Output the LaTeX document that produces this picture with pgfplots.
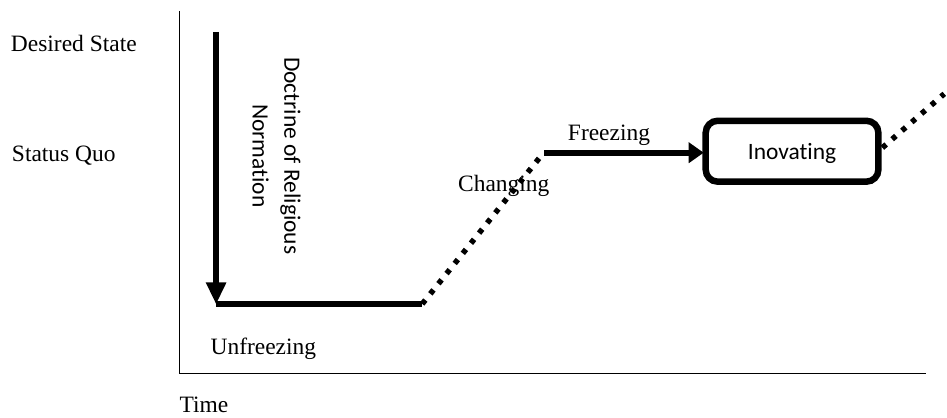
\documentclass[border=0pt]{standalone}
\usepackage{pgfplots}
\pgfplotsset{compat=1.18}
\usepackage{fontspec}
\setmainfont{Liberation Serif}
\newfontfamily\calibri[Ligatures={NoCommon,NoContextual}]{Carlito}
\usetikzlibrary{arrows.meta}
\tikzset{every node/.style={inner sep=0pt, outer sep=0pt}}
\begin{document}
\fontsize{23.5bp}{28bp}\selectfont
\begin{tikzpicture}
\begin{axis}[
  scale only axis, width=947bp, height=418bp,
  xmin=0, xmax=947, ymin=0, ymax=418,
  hide axis, clip=false,
]
\path (axis cs:0,0) rectangle (axis cs:947,418);
% axes
\addplot[black, line width=1.6bp] coordinates {(180,407) (180,44) (928,44)};
% downward arrow
\addplot[black, line width=6bp, -{Triangle[width=19bp,length=22bp]}] coordinates {(216.5,386) (216.5,113)};
% unfreezing baseline
\addplot[black, line width=5.5bp] coordinates {(216.5,113.5) (423,113.5)};
% changing (dotted)
\addplot[black, line width=5.5bp, dash pattern=on 5bp off 8bp] coordinates {(423,113.5) (543,263)};
% freezing arrow
\addplot[black, line width=6bp, -{Triangle[width=20bp,length=15bp]}] coordinates {(545,265) (705,265)};
% innovating box
\draw[black, line width=6.5bp, rounded corners=12bp] (axis cs:707,236) rectangle (axis cs:880,297);
% continuing (dotted)
\addplot[black, line width=5.5bp, dash pattern=on 5bp off 8bp] coordinates {(884,270) (946,324)};
% labels
\node[inner sep=0pt, anchor=base west] at (axis cs:11,366) {Desired State};
\node[inner sep=0pt, anchor=base west] at (axis cs:12,256) {Status Quo};
\node[inner sep=0pt, anchor=base west] at (axis cs:211,63) {Unfreezing};
\node[inner sep=0pt, anchor=base west] at (axis cs:180,5) {Time};
\node[inner sep=0pt, anchor=base west] at (axis cs:569,277) {Freezing};
\node[inner sep=0pt, anchor=base west] at (axis cs:459,226) {Changing};
\node[inner sep=0pt, anchor=base, font=\calibri] at (axis cs:793.5,258) {Inovating};
\node[inner sep=0pt, anchor=base, rotate=-90, font=\calibri] at (axis cs:285,262) {Doctrine of Religious};
\node[inner sep=0pt, anchor=base, rotate=-90, font=\calibri] at (axis cs:253,262) {Normation};
\end{axis}
\end{tikzpicture}
\end{document}
